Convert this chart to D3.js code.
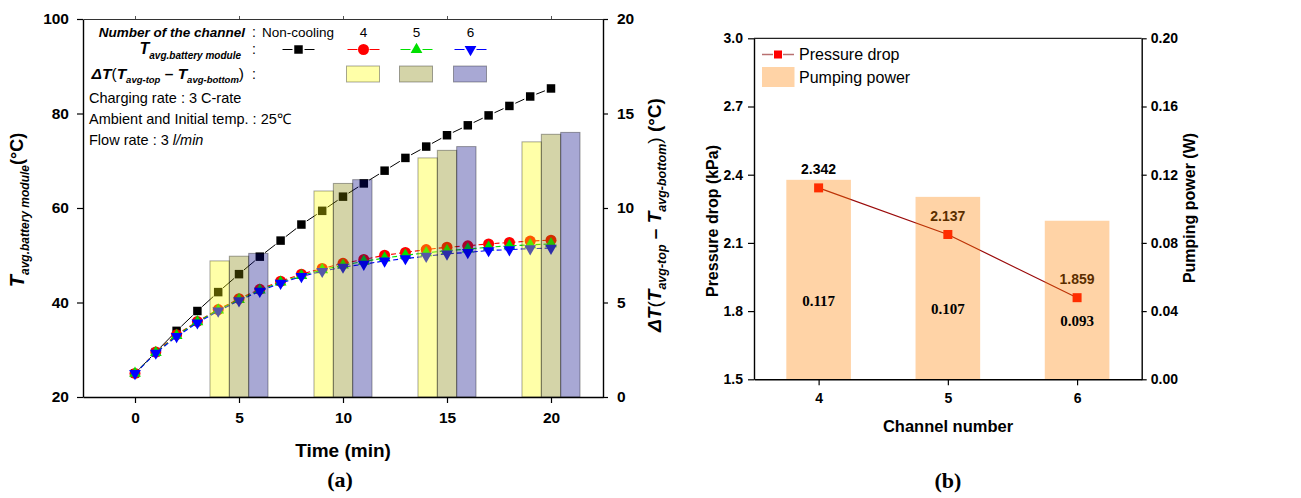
<!DOCTYPE html>
<html><head><meta charset="utf-8">
<script src="https://cdn.jsdelivr.net/npm/d3@7"></script>
<style>
body{margin:0;background:#fff}
svg{display:block}
text{font-family:"Liberation Sans",Arial,sans-serif;white-space:pre}
</style>
</head><body>
<svg id="c" width="1301" height="498"></svg>
<script>
// ---------------- DATA ----------------
const timeMin = [0,1,2,3,4,5,6,7,8,9,10,11,12,13,14,15,16,17,18,19,20];
const tNonCooling = [25.0,29.5,34.0,38.2,42.2,46.0,49.7,53.1,56.5,59.4,62.4,65.2,67.9,70.6,73.0,75.4,77.5,79.6,81.6,83.6,85.3];
const tCh4 = [25.0,29.5,33.2,36.0,38.5,40.8,42.8,44.5,46.0,47.2,48.3,49.1,50.0,50.6,51.2,51.7,52.0,52.4,52.7,53.0,53.2];
const tCh5 = [25.0,29.4,33.0,35.9,38.4,40.6,42.6,44.3,45.7,46.9,47.9,48.7,49.4,50.0,50.5,51.0,51.3,51.7,52.0,52.2,52.4];
const tCh6 = [25.0,29.3,32.8,35.7,38.2,40.4,42.4,44.1,45.5,46.6,47.5,48.1,48.8,49.3,49.8,50.3,50.6,51.0,51.2,51.4,51.5];
const barTimes = [5,10,15,20];
const dTCh4 = [7.2,10.9,12.65,13.5];
const dTCh5 = [7.45,11.3,13.05,13.9];
const dTCh6 = [7.6,11.5,13.25,14.0];
const xTicksA = [0,5,10,15,20];
const yTicksA = [20,40,60,80,100];
const y2TicksA = [0,5,10,15,20];
const legendChannels = ["4","5","6"];

const channels = [4,5,6];
const pressureDrop = [2.342,2.137,1.859];
const pumpingPower = [0.117,0.107,0.093];
const yTicksB = [1.5,1.8,2.1,2.4,2.7,3.0];
const y2TicksB = [0,0.04,0.08,0.12,0.16,0.20];

// ---------------- HELPERS ----------------
const svg = d3.select("#c");
function rich(sel, x, y, parts, anchor){
  const t = sel.append("text").attr("x",x).attr("y",y).attr("text-anchor",anchor||"start").attr("fill","#000");
  let cur = 0;
  parts.forEach(p=>{
    const ts = t.append("tspan").text(p.t)
      .attr("font-size",p.size)
      .attr("font-weight",p.bold?"bold":"normal")
      .attr("font-style",p.italic?"italic":"normal");
    if(p.family) ts.attr("font-family",p.family);
    const s = p.shift||0;
    if(s!==cur){ ts.attr("dy", s-cur); cur = s; }
  });
  return t;
}
function styleAxis(g, fs){
  g.select(".domain").attr("stroke","#000").attr("stroke-width",1.4);
  g.selectAll(".tick line").attr("stroke","#000").attr("stroke-width",1.2);
  g.selectAll(".tick text").attr("font-size",fs).attr("font-weight","bold")
    .attr("font-family",'"Liberation Sans",Arial,sans-serif').attr("fill","#000");
}
const symPath = {
  square: d3.symbol(d3.symbolSquare, 72)(),
  circle: d3.symbol(d3.symbolCircle, 95)(),
  tri: d3.symbol(d3.symbolTriangle, 60)(),
  dtri: d3.symbol(d3.symbolTriangle, 60)()
};
function marker(sel, x, y, sym, color){
  sel.append("path").attr("d", symPath[sym]).attr("fill",color)
    .attr("transform",`translate(${x},${y})` + (sym==="dtri"?" rotate(180)":""));
}

// ---------------- PANEL A ----------------
const A = {l:83, r:603, t:19, b:397};
const xA = d3.scaleLinear().domain([-2.5,22.5]).range([A.l,A.r]);
const yA = d3.scaleLinear().domain([20,100]).range([A.b,A.t]);
const yA2 = d3.scaleLinear().domain([0,20]).range([A.b,A.t]);
const gA = svg.append("g");

const seriesA = [
  {vals:tNonCooling, color:"#000000", sym:"square", dash:null},
  {vals:tCh4, color:"#ff0000", sym:"circle", dash:"5,3"},
  {vals:tCh5, color:"#00e000", sym:"tri", dash:"5,3"},
  {vals:tCh6, color:"#0000ff", sym:"dtri", dash:"5,3"}
];
seriesA.forEach(s=>{
  const pts = timeMin.map((t,i)=>[xA(t), yA(s.vals[i])]);
  if(!s.dash){
    for(let i=0;i<pts.length-1;i++){
      const [x1,y1]=pts[i], [x2,y2]=pts[i+1];
      const L = Math.hypot(x2-x1,y2-y1), g = 6.5;
      if(L<=2*g) continue;
      const ux=(x2-x1)/L, uy=(y2-y1)/L;
      gA.append("line").attr("x1",x1+ux*g).attr("y1",y1+uy*g).attr("x2",x2-ux*g).attr("y2",y2-uy*g)
        .attr("stroke",s.color).attr("stroke-width",1);
    }
  } else {
    gA.append("path").attr("d", d3.line()(pts)).attr("fill","none")
      .attr("stroke",s.color).attr("stroke-width",1.1).attr("stroke-dasharray",s.dash);
  }
  pts.forEach(p=>marker(gA,p[0],p[1],s.sym,s.color));
});

const barW = 0.93;
const barSets = [
  {vals:dTCh4, fill:"#ffff00", off:-barW},
  {vals:dTCh5, fill:"#808000", off:0},
  {vals:dTCh6, fill:"#000080", off:barW}
];
barSets.forEach(bs=>{
  barTimes.forEach((t,i)=>{
    const x0 = xA(t+bs.off-barW/2), x1 = xA(t+bs.off+barW/2);
    gA.append("rect").attr("x",x0).attr("width",x1-x0)
      .attr("y",yA2(bs.vals[i])).attr("height",yA2(0)-yA2(bs.vals[i]))
      .attr("fill",bs.fill).attr("fill-opacity",0.34)
      .attr("stroke","#000").attr("stroke-opacity",0.35).attr("stroke-width",1);
  });
});

const axL = gA.append("g").attr("transform",`translate(${A.l},0)`)
  .call(d3.axisLeft(yA).tickValues(yTicksA).tickSize(6).tickSizeOuter(0).tickPadding(8));
styleAxis(axL,15.5);
const axB = gA.append("g").attr("transform",`translate(0,${A.b})`)
  .call(d3.axisBottom(xA).tickValues(xTicksA).tickSize(6).tickSizeOuter(0).tickPadding(9));
styleAxis(axB,15.5);
const axR = gA.append("g").attr("transform",`translate(${A.r},0)`)
  .call(d3.axisRight(yA2).tickValues(y2TicksA).tickSize(5).tickSizeOuter(0).tickPadding(9));
styleAxis(axR,15.5);
const axT = gA.append("g").attr("transform",`translate(0,${A.t})`)
  .call(d3.axisTop(xA).tickValues(xTicksA).tickSize(3).tickSizeOuter(0).tickFormat(""));
axT.select(".domain").attr("stroke","#333").attr("stroke-width",1.2);
axT.selectAll(".tick line").attr("stroke","#555");

rich(gA, 343, 457, [{t:"Time (min)", size:19, bold:true}], "middle");
rich(gA, 340, 487, [{t:"(a)", size:22, bold:true, family:'"Liberation Serif","DejaVu Serif",serif'}], "middle");
rich(gA.append("g").attr("transform","translate(24,210) rotate(-90)"), 0, 0, [
  {t:"T", size:20, bold:true, italic:true},
  {t:"avg.battery module", size:12, bold:true, italic:true, shift:5},
  {t:"(°C)", size:18, bold:true, shift:-1}
], "middle");
rich(gA.append("g").attr("transform","translate(661,215) rotate(-90)"), 0, 0, [
  {t:"ΔT", size:19, bold:true, italic:true},
  {t:"(", size:19},
  {t:"T", size:19, bold:true, italic:true},
  {t:"avg-top", size:12.5, bold:true, italic:true, shift:5},
  {t:" – ", size:19, bold:true, shift:0},
  {t:"T", size:19, bold:true, italic:true},
  {t:"avg-bottom", size:12.5, bold:true, italic:true, shift:5},
  {t:") ", size:19, shift:0},
  {t:"(°C)", size:19, bold:true}
], "middle");

const lg = gA.append("g");
rich(lg, 245, 37, [{t:"Number of the channel", size:13.5, bold:true, italic:true}], "end");
[37,54,79].forEach(y=>rich(lg, 254, y, [{t:":", size:14}], "middle"));
rich(lg, 262, 37, [{t:"Non-cooling", size:13.5}]);
const legX = [363.5, 416.5, 470.5];
legendChannels.forEach((c,i)=>rich(lg, legX[i], 37, [{t:c, size:13.5}], "middle"));
rich(lg, 241, 54, [
  {t:"T", size:16, bold:true, italic:true},
  {t:"avg.battery module", size:10, bold:true, italic:true, shift:5}
], "end");
const legSymX = [298.5].concat(legX);
seriesA.forEach((s,i)=>{
  const cx = legSymX[i], cy = 49.5;
  lg.append("line").attr("x1",cx-16).attr("x2",cx-6).attr("y1",cy).attr("y2",cy).attr("stroke",s.color).attr("stroke-width",1);
  lg.append("line").attr("x1",cx+6).attr("x2",cx+16).attr("y1",cy).attr("y2",cy).attr("stroke",s.color).attr("stroke-width",1);
  marker(lg,cx,cy,s.sym,s.color);
});
barSets.forEach((bs,i)=>{
  lg.append("rect").attr("x",legX[i]-17).attr("y",66).attr("width",33).attr("height",16)
    .attr("fill",bs.fill).attr("fill-opacity",0.34)
    .attr("stroke","#000").attr("stroke-opacity",0.35).attr("stroke-width",1);
});
rich(lg, 244, 79, [
  {t:"ΔT", size:15.5, bold:true, italic:true},
  {t:"(", size:15.5},
  {t:"T", size:15.5, bold:true, italic:true},
  {t:"avg-top", size:9.5, bold:true, italic:true, shift:4},
  {t:" – ", size:15.5, bold:true, shift:0},
  {t:"T", size:15.5, bold:true, italic:true},
  {t:"avg-bottom", size:9.5, bold:true, italic:true, shift:4},
  {t:")", size:15.5, shift:0}
], "end");
rich(lg, 89, 103, [{t:"Charging rate : 3 C-rate", size:14.5}]);
rich(lg, 89, 124, [{t:"Ambient and Initial temp. : 25℃", size:14.5}]);
rich(lg, 89, 145, [{t:"Flow rate : 3 ", size:14.5},{t:"l/min", size:14.5, italic:true}]);

// ---------------- PANEL B ----------------
const B = {l:754, r:1141.7, t:38.3, b:379.3};
const xB = d3.scaleLinear().domain([3.5,6.5]).range([B.l,B.r]);
const yB = d3.scaleLinear().domain([1.5,3.0]).range([B.b,B.t]);
const yB2 = d3.scaleLinear().domain([0,0.2]).range([B.b,B.t]);
const gB = svg.append("g");

const ptsB = channels.map((c,i)=>[xB(c), yB(pressureDrop[i])]);
gB.append("path").attr("d", d3.line()(ptsB)).attr("fill","none").attr("stroke","#9a0a0a").attr("stroke-width",1.2);
ptsB.forEach(p=>gB.append("rect").attr("x",p[0]-4.5).attr("y",p[1]-4.5).attr("width",9).attr("height",9).attr("fill","#ff0000"));
channels.forEach((c,i)=>rich(gB, xB(c), yB(pressureDrop[i])-13.5, [{t:pressureDrop[i].toFixed(3), size:14, bold:true}], "middle"));

const bwB = 0.5;
channels.forEach((c,i)=>{
  const x0 = xB(c-bwB/2), x1 = xB(c+bwB/2);
  gB.append("rect").attr("x",x0).attr("width",x1-x0)
    .attr("y",yB2(pumpingPower[i])).attr("height",yB2(0)-yB2(pumpingPower[i]))
    .attr("fill","#ff8000").attr("fill-opacity",0.35);
});
channels.forEach((c,i)=>{
  const mid = (yB2(pumpingPower[i])+yB2(0))/2;
  rich(gB, xB(c), mid+26, [{t:pumpingPower[i].toFixed(3), size:15, bold:true, family:'"Liberation Serif","Times New Roman",serif'}], "middle");
});

const bL = gB.append("g").attr("transform",`translate(${B.l},0)`)
  .call(d3.axisLeft(yB).tickValues(yTicksB).tickFormat(d3.format(".1f")).tickSize(6).tickSizeOuter(0).tickPadding(5));
styleAxis(bL,14);
const bR = gB.append("g").attr("transform",`translate(${B.r},0)`)
  .call(d3.axisRight(yB2).tickValues(y2TicksB).tickFormat(d3.format(".2f")).tickSize(5).tickSizeOuter(0).tickPadding(4));
styleAxis(bR,14);
const bB = gB.append("g").attr("transform",`translate(0,${B.b})`)
  .call(d3.axisBottom(xB).tickValues(channels).tickFormat(d3.format("d")).tickSize(6).tickSizeOuter(0).tickPadding(8));
styleAxis(bB,14);
gB.append("line").attr("x1",B.l).attr("x2",B.r).attr("y1",B.t).attr("y2",B.t).attr("stroke","#222").attr("stroke-width",1.3);

rich(gB.append("g").attr("transform","translate(718,221) rotate(-90)"),0,0,[{t:"Pressure drop (kPa)", size:16, bold:true}],"middle");
rich(gB.append("g").attr("transform","translate(1195,208) rotate(-90)"),0,0,[{t:"Pumping power (W)", size:16, bold:true}],"middle");
rich(gB, 948, 432, [{t:"Channel number", size:16.5, bold:true}], "middle");
rich(gB, 948, 488, [{t:"(b)", size:22, bold:true, family:'"Liberation Serif","DejaVu Serif",serif'}], "middle");

const lb = gB.append("g");
lb.append("line").attr("x1",762).attr("x2",773).attr("y1",54.5).attr("y2",54.5).attr("stroke","#b87070").attr("stroke-width",1.5);
lb.append("line").attr("x1",783).attr("x2",794).attr("y1",54.5).attr("y2",54.5).attr("stroke","#b87070").attr("stroke-width",1.5);
lb.append("rect").attr("x",774).attr("y",50.5).attr("width",8).attr("height",8).attr("fill","#ff0000");
rich(lb, 799, 60, [{t:"Pressure drop", size:16}]);
lb.append("rect").attr("x",762).attr("y",67).attr("width",32.5).attr("height",20).attr("fill","#ff8000").attr("fill-opacity",0.35);
rich(lb, 799, 83, [{t:"Pumping power", size:16}]);
</script>
</body></html>
